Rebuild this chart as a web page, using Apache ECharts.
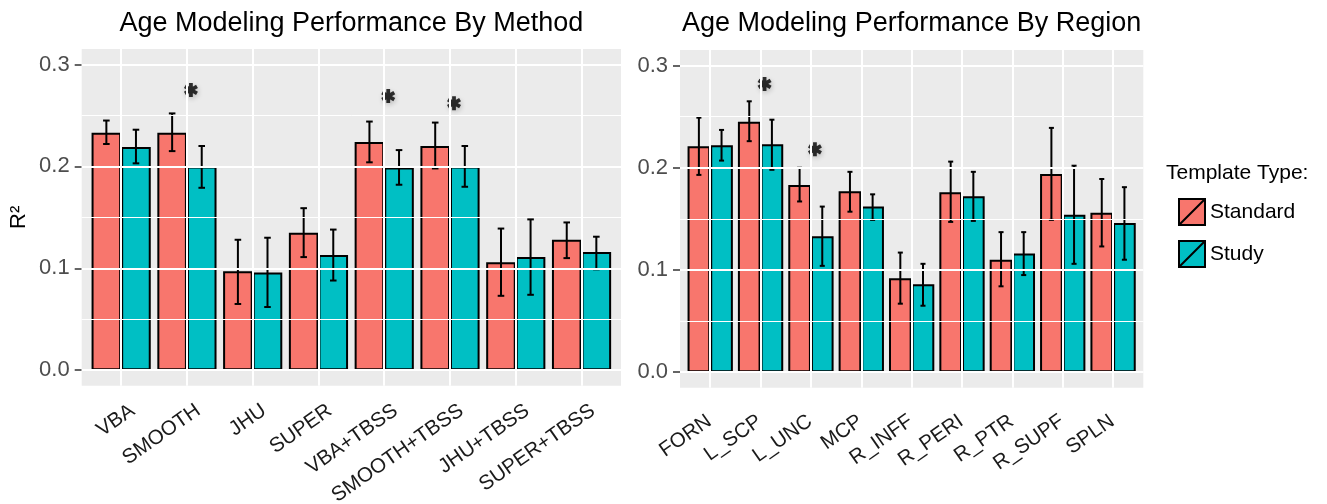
<!DOCTYPE html>
<html>
<head>
<meta charset="utf-8">
<script src="https://cdn.jsdelivr.net/npm/echarts@6/dist/echarts.min.js"></script>
<style>html,body{margin:0;padding:0;background:#fff}#c{width:1327px;height:504px}</style>
</head>
<body>
<div id="c"></div>
<script>
// ---------- data ----------
const methods = ['VBA','SMOOTH','JHU','SUPER','VBA+TBSS','SMOOTH+TBSS','JHU+TBSS','SUPER+TBSS'];
const methodStd     = [0.233, 0.233, 0.097, 0.135, 0.224, 0.220, 0.106, 0.128];
const methodStdLo   = [0.222, 0.215, 0.065, 0.111, 0.204, 0.198, 0.073, 0.110];
const methodStdHi   = [0.245, 0.252, 0.128, 0.159, 0.244, 0.243, 0.139, 0.145];
const methodStudy   = [0.219, 0.200, 0.096, 0.113, 0.199, 0.200, 0.111, 0.116];
const methodStudyLo = [0.203, 0.179, 0.062, 0.088, 0.182, 0.180, 0.074, 0.099];
const methodStudyHi = [0.236, 0.220, 0.130, 0.138, 0.216, 0.220, 0.148, 0.131];
const methodSig = [['SMOOTH', 0.275], ['VBA+TBSS', 0.269], ['SMOOTH+TBSS', 0.262]];

const regions = ['FORN','L_SCP','L_UNC','MCP','R_INFF','R_PERI','R_PTR','R_SUPF','SPLN'];
const regionStd     = [0.221, 0.245, 0.183, 0.177, 0.092, 0.176, 0.110, 0.194, 0.156];
const regionStdLo   = [0.193, 0.226, 0.167, 0.157, 0.067, 0.147, 0.084, 0.149, 0.123];
const regionStdHi   = [0.249, 0.265, 0.200, 0.196, 0.117, 0.206, 0.137, 0.239, 0.189];
const regionStudy   = [0.222, 0.223, 0.133, 0.162, 0.086, 0.172, 0.116, 0.154, 0.146];
const regionStudyLo = [0.207, 0.198, 0.104, 0.149, 0.065, 0.148, 0.095, 0.106, 0.110];
const regionStudyHi = [0.237, 0.247, 0.162, 0.174, 0.106, 0.196, 0.137, 0.202, 0.181];
const regionSig = [['L_SCP', 0.282], ['L_UNC', 0.218]];

const yTicks = [0, 0.1, 0.2, 0.3];
const yMinor = [0.05, 0.15, 0.25];
const yMin = -0.0152, yMax = 0.3152;
const seriesNames = ['Standard', 'Study'];
const titles = ['Age Modeling Performance By Method', 'Age Modeling Performance By Region'];
const legendTitle = 'Template Type:';

// ---------- layout / style ----------
const FONT = 'Liberation Sans, Arial, Helvetica, sans-serif';
const C_STD = '#F8766D', C_STUDY = '#00BFC4';
const panels = [
  {left: 81.7, top: 49, width: 539.3, height: 336.7, n: methods.length},
  {left: 680, top: 50, width: 463.3, height: 337.7, n: regions.length}
];
function baseRect(p, extra) {
  return Object.assign({left: p.left, top: p.top, width: p.width, height: p.height, outerBoundsMode: 'none', containLabel: false}, extra || {});
}
// ggplot-like discrete expansion of 0.6 units at each side
function innerRect(p) {
  const unit = p.width / (p.n - 1 + 1.2);
  return {left: p.left + 0.1 * unit, top: p.top, width: p.n * unit, height: p.height, outerBoundsMode: 'none', containLabel: false};
}
// rect spanning the tick range, for the tick/label axis
function tickRect(p) {
  const span = yMax - yMin;
  const top = p.top + (yMax - yTicks[yTicks.length - 1]) / span * p.height;
  const bottom = p.top + (yMax - yTicks[0]) / span * p.height;
  return {left: p.left, top: top, width: p.width, height: bottom - top, outerBoundsMode: 'none', containLabel: false};
}

// six-spoke bold asterisk symbol (shape only)
function asteriskPath() {
  const w = 0.27, len = 1;
  let d = '';
  [90, 30, 150].forEach(a => {
    const r = a * Math.PI / 180, c = Math.cos(r), s = Math.sin(r);
    const px = -s * w, py = c * w;
    const pts = [[len * c + px, len * s + py], [len * c - px, len * s - py], [-len * c - px, -len * s - py], [-len * c + px, -len * s + py]];
    const fmt = p => (p[0] * 50 + 50).toFixed(2) + ',' + (p[1] * 50 + 50).toFixed(2);
    d += 'M' + fmt(pts[0]) + 'L' + fmt(pts[1]) + 'L' + fmt(pts[2]) + 'L' + fmt(pts[3]) + 'Z';
  });
  return 'path://' + d;
}
const ASTERISK = asteriskPath();

const chart = echarts.init(document.getElementById('c'), null, {renderer: 'canvas'});

function errRender(params, api) {
  const x = api.value(0), lo = api.value(1), hi = api.value(2), k = api.value(3);
  const band = api.size([1, 0])[0];
  const off = (k === 0 ? -0.225 : 0.225) * band;
  const cap = 0.05 * band;
  const pLo = api.coord([x, lo]);
  const pHi = api.coord([x, hi]);
  const cx = pLo[0] + off;
  const st = {stroke: '#000', lineWidth: 2};
  return {type: 'group', children: [
    {type: 'line', shape: {x1: cx, y1: pLo[1], x2: cx, y2: pHi[1]}, style: st},
    {type: 'line', shape: {x1: cx - cap, y1: pHi[1], x2: cx + cap, y2: pHi[1]}, style: st},
    {type: 'line', shape: {x1: cx - cap, y1: pLo[1], x2: cx + cap, y2: pLo[1]}, style: st}
  ]};
}

function errData(lo0, hi0, lo1, hi1) {
  const d = [];
  lo0.forEach((v, i) => d.push([i, v, hi0[i], 0]));
  lo1.forEach((v, i) => d.push([i, v, hi1[i], 1]));
  return d;
}

function gridLines(nCat) {
  const data = [];
  yTicks.forEach(v => data.push({yAxis: v, lineStyle: {width: 2}}));
  yMinor.forEach(v => data.push({yAxis: v, lineStyle: {width: 1}}));
  for (let i = 0; i < nCat; i++) data.push({xAxis: i, lineStyle: {width: 2}});
  return data;
}

function bgSeries(idx, nCat) {
  return {
    type: 'line', xAxisIndex: idx, yAxisIndex: idx, data: [], z: 1, silent: true,
    markLine: {
      silent: true, symbol: ['none', 'none'], label: {show: false}, animation: false,
      lineStyle: {color: '#FFFFFF', type: 'solid'},
      data: gridLines(nCat)
    }
  };
}

function barSeries(name, data, color, idx) {
  return {
    name: name, type: 'bar', xAxisIndex: idx, yAxisIndex: idx, data: data,
    barWidth: '45%', barGap: '0%', z: 2,
    itemStyle: {color: color, borderColor: '#000', borderWidth: 2}
  };
}

function sigSeries(data, idx) {
  return {
    type: 'scatter', xAxisIndex: idx, yAxisIndex: idx, data: data, z: 4, silent: true,
    symbol: ASTERISK, symbolSize: 14, symbolOffset: [4, 0], symbolKeepAspect: true,
    itemStyle: {color: '#000', shadowColor: 'rgba(0,0,0,0.25)', shadowBlur: 5, shadowOffsetX: 1, shadowOffsetY: 2}
  };
}

function yAxisTicks(idx, withName) {
  const ax = {
    type: 'value', gridIndex: idx, min: yTicks[0], max: yTicks[yTicks.length - 1], interval: yTicks[1] - yTicks[0],
    axisLine: {show: false},
    axisTick: {show: true, length: 7, lineStyle: {color: '#333', width: 1.5}},
    axisLabel: {show: true, margin: 12, fontSize: 22, color: '#4D4D4D',
      fontFamily: FONT, formatter: v => v.toFixed(1)},
    splitLine: {show: false}
  };
  if (withName) {
    ax.name = 'R²';
    ax.nameLocation = 'middle';
    ax.nameGap = 52;
    ax.nameTextStyle = {fontSize: 22, color: '#000', fontFamily: FONT};
  }
  return ax;
}

function yAxisHidden(idx) {
  return {type: 'value', gridIndex: idx, min: yMin, max: yMax, show: false, splitLine: {show: false}};
}

function catAxis(idx, cats, padRight) {
  return {
    type: 'category', gridIndex: idx, data: cats,
    axisLine: {show: false},
    axisTick: {show: true, alignWithLabel: true, length: 6, lineStyle: {color: '#333', width: 1.5}},
    axisLabel: {show: true, interval: 0, rotate: 35, margin: 31, padding: [0, padRight, 0, 0],
      fontSize: 20.5, color: '#1A1A1A', fontFamily: FONT},
    splitLine: {show: false}
  };
}

const L = panels[0], R = panels[1];
const bgStyle = {show: true, backgroundColor: '#EBEBEB', borderWidth: 0};
const option = {
  animation: false,
  backgroundColor: '#FFFFFF',
  textStyle: {fontFamily: FONT},
  grid: [
    baseRect(L, bgStyle),
    innerRect(L),
    tickRect(L),
    baseRect(R, bgStyle),
    innerRect(R),
    tickRect(R)
  ],
  xAxis: [
    {type: 'value', gridIndex: 0, min: -0.6, max: methods.length - 0.4, show: false, splitLine: {show: false}},
    catAxis(1, methods, -14),
    {type: 'value', gridIndex: 2, min: 0, max: 1, show: false, splitLine: {show: false}},
    {type: 'value', gridIndex: 3, min: -0.6, max: regions.length - 0.4, show: false, splitLine: {show: false}},
    catAxis(4, regions, 1),
    {type: 'value', gridIndex: 5, min: 0, max: 1, show: false, splitLine: {show: false}}
  ],
  yAxis: [
    yAxisHidden(0),
    yAxisHidden(1),
    yAxisTicks(2, true),
    yAxisHidden(3),
    yAxisHidden(4),
    yAxisTicks(5, false)
  ],
  legend: {
    orient: 'vertical', left: 1178, top: 198, padding: 0, itemWidth: 26, itemHeight: 26, itemGap: 14,
    data: seriesNames,
    icon: 'path://M0,0L10,0L10,10L0,10Z M0,10L10,0',
    textStyle: {fontSize: 21, color: '#000', fontFamily: FONT},
    selectedMode: false
  },
  graphic: [
    {type: 'text', x: L.left + L.width / 2, y: 24, z: 10, style: {text: titles[0], font: '27px ' + FONT, fill: '#000',
      align: 'center', verticalAlign: 'middle', textAlign: 'center', textVerticalAlign: 'middle'}},
    {type: 'text', x: R.left + R.width / 2, y: 24, z: 10, style: {text: titles[1], font: '27px ' + FONT, fill: '#000',
      align: 'center', verticalAlign: 'middle', textAlign: 'center', textVerticalAlign: 'middle'}},
    {type: 'text', x: 1166, y: 173, z: 10, style: {text: legendTitle, font: '21px ' + FONT, fill: '#000',
      align: 'left', verticalAlign: 'middle', textAlign: 'left', textVerticalAlign: 'middle'}}
  ],
  series: [
    bgSeries(0, methods.length),
    barSeries(seriesNames[0], methodStd, C_STD, 1),
    barSeries(seriesNames[1], methodStudy, C_STUDY, 1),
    {type: 'custom', xAxisIndex: 1, yAxisIndex: 1, z: 3, silent: true, renderItem: errRender,
      encode: {x: 0, y: [1, 2]}, data: errData(methodStdLo, methodStdHi, methodStudyLo, methodStudyHi)},
    sigSeries(methodSig, 1),
    bgSeries(3, regions.length),
    barSeries(seriesNames[0], regionStd, C_STD, 4),
    barSeries(seriesNames[1], regionStudy, C_STUDY, 4),
    {type: 'custom', xAxisIndex: 4, yAxisIndex: 4, z: 3, silent: true, renderItem: errRender,
      encode: {x: 0, y: [1, 2]}, data: errData(regionStdLo, regionStdHi, regionStudyLo, regionStudyHi)},
    sigSeries(regionSig, 4)
  ]
};
chart.setOption(option);
</script>
</body>
</html>
